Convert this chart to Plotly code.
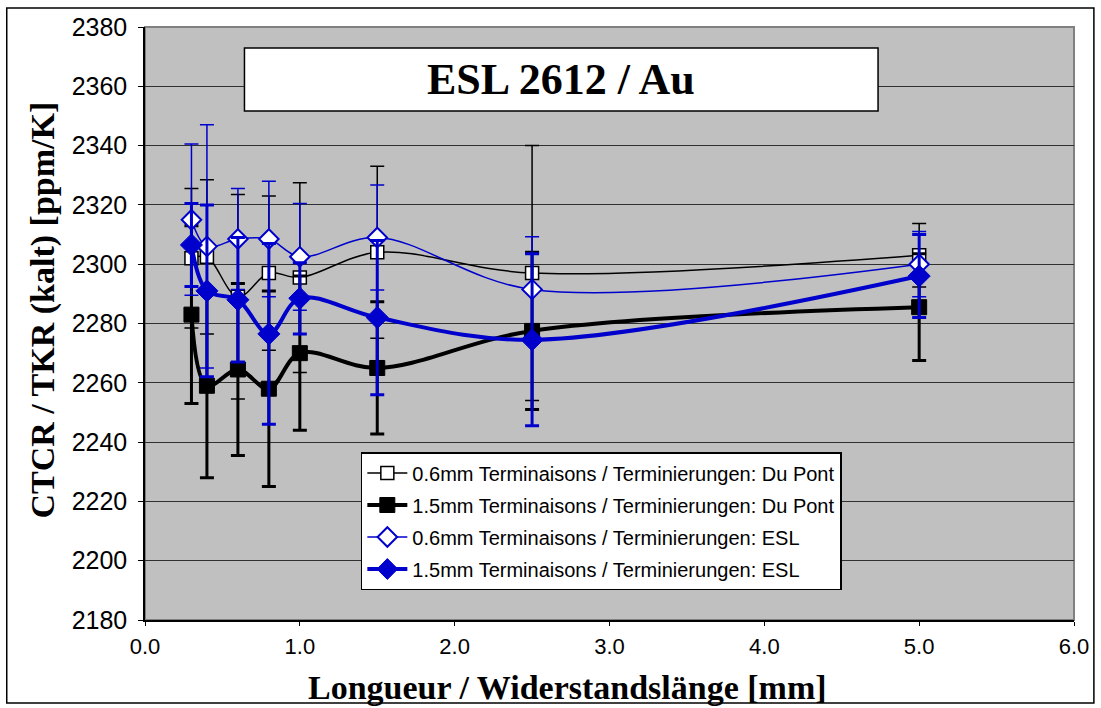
import plotly.graph_objects as go

# ---- data ----
lengths = [0.3, 0.4, 0.6, 0.8, 1.0, 1.5, 2.5, 5.0]

dp06 = [2302, 2302.5, 2289, 2297, 2295.5, 2304, 2297, 2303]
dp06_err = [23.5, 26, 34.5, 26, 32, 29, 43, 10.7]

dp15 = [2283, 2259, 2264.5, 2258, 2270, 2265, 2277.5, 2285.5]
dp15_err = [30, 31, 29, 33, 26, 22.3, 26.5, 18]

esl06 = [2315, 2306, 2308.5, 2308.5, 2302.5, 2309, 2291.5, 2300]
esl06_err = [25.5, 41, 17, 19.5, 18, 17.7, 17.8, 11]

esl15 = [2306.5, 2291, 2288, 2276.5, 2288.5, 2282, 2274.5, 2296]
esl15_err = [14, 29, 21, 30.5, 12, 26, 29, 14]

names = [
    "0.6mm Terminaisons / Terminierungen: Du Pont",
    "1.5mm Terminaisons / Terminierungen: Du Pont",
    "0.6mm Terminaisons / Terminierungen: ESL",
    "1.5mm Terminaisons / Terminierungen: ESL",
]

BLUE = "#0000CC"
BLACK = "#000000"

fig = go.Figure()

def add(y, err, name, color, lw, msym, msize, mfill, mline, ethick, ewidth, grp):
    fig.add_trace(go.Scatter(
        x=lengths, y=y, name=name, mode="lines+markers",
        line=dict(color=color, width=lw, shape="spline", smoothing=1.0),
        marker=dict(symbol=msym, size=msize, color=mfill,
                    line=dict(color=color, width=mline)),
        error_y=dict(type="data", array=err, visible=True,
                     color=color, thickness=ethick, width=ewidth),
        legendgroup=grp,
    ))

add(dp06, dp06_err, names[0], BLACK, 1.5, "square", 13, "white", 1.5, 1.5, 7, "a")
add(dp15, dp15_err, names[1], BLACK, 4, "square", 15, BLACK, 1, 3, 7, "b")
add(esl06, esl06_err, names[2], BLUE, 1.5, "diamond", 15, "white", 2, 1.5, 7, "c")
add(esl15, esl15_err, names[3], BLUE, 4, "diamond", 17, BLUE, 1, 3, 7, "d")

L, R, T, B = 145, 22, 27, 88
W, H = 1101, 708
pw = W - L - R
ph = H - T - B

def px(xpix):
    return (xpix - L) / pw

def py(ypix):
    return (H - B - ypix) / ph

shapes = [
    dict(type="rect", xref="paper", yref="paper", x0=0, x1=1, y0=0, y1=1,
         line=dict(color="#808080", width=2), layer="below"),
    dict(type="rect", xref="paper", yref="paper",
         x0=px(245), x1=px(882), y0=py(111), y1=py(48),
         fillcolor="white", line=dict(color="black", width=1.5), layer="above"),
    dict(type="rect", xref="paper", yref="paper",
         x0=px(6), x1=px(1099), y0=py(703), y1=py(8),
         line=dict(color="black", width=1.5)),
]

serif = "Liberation Serif, Times New Roman"

fig.update_layout(
    width=W, height=H,
    margin=dict(l=L, r=R, t=T, b=B),
    paper_bgcolor="white",
    plot_bgcolor="#C0C0C0",
    font=dict(family="Liberation Sans, Arial", color="black"),
    shapes=shapes,
    annotations=[
        dict(text="<b>ESL 2612 / Au</b>", xref="paper", yref="paper",
             x=px(563.5), y=py(79.5), xanchor="center", yanchor="middle",
             showarrow=False,
             font=dict(family=serif, size=44, color="black")),
        dict(text="<b>Longueur / Widerstandslänge [mm]</b>", xref="paper", yref="paper",
             x=px(570), y=py(687), xanchor="center", yanchor="middle",
             showarrow=False,
             font=dict(family=serif, size=34, color="black")),
        dict(text="<b>CTCR / TKR (kalt) [ppm/K]</b>", xref="paper", yref="paper",
             x=px(42), y=py(310), xanchor="center", yanchor="middle",
             textangle=-90, showarrow=False,
             font=dict(family=serif, size=34, color="black")),
    ],
    legend=dict(
        x=px(362), y=py(452), xanchor="left", yanchor="top",
        bgcolor="white", bordercolor="black", borderwidth=1.5,
        font=dict(family="Liberation Sans, Arial", size=20, color="black"),
        traceorder="grouped", tracegroupgap=3,
        itemwidth=40,
    ),
    xaxis=dict(
        range=[0, 6], dtick=1, tickformat=".1f",
        showgrid=False, zeroline=False,
        showline=True, linecolor="black", linewidth=1.5,
        ticks="outside", ticklen=4, tickcolor="black",
        tickfont=dict(size=22), ticklabelstandoff=2,
    ),
    yaxis=dict(
        range=[2180, 2380], dtick=20,
        showgrid=True, gridcolor="#303030", gridwidth=1.2,
        zeroline=False,
        showline=True, linecolor="black", linewidth=1.5,
        ticks="outside", ticklen=5, tickcolor="black",
        tickfont=dict(size=25), ticklabelstandoff=6,
    ),
)

fig.write_html("out.html")
